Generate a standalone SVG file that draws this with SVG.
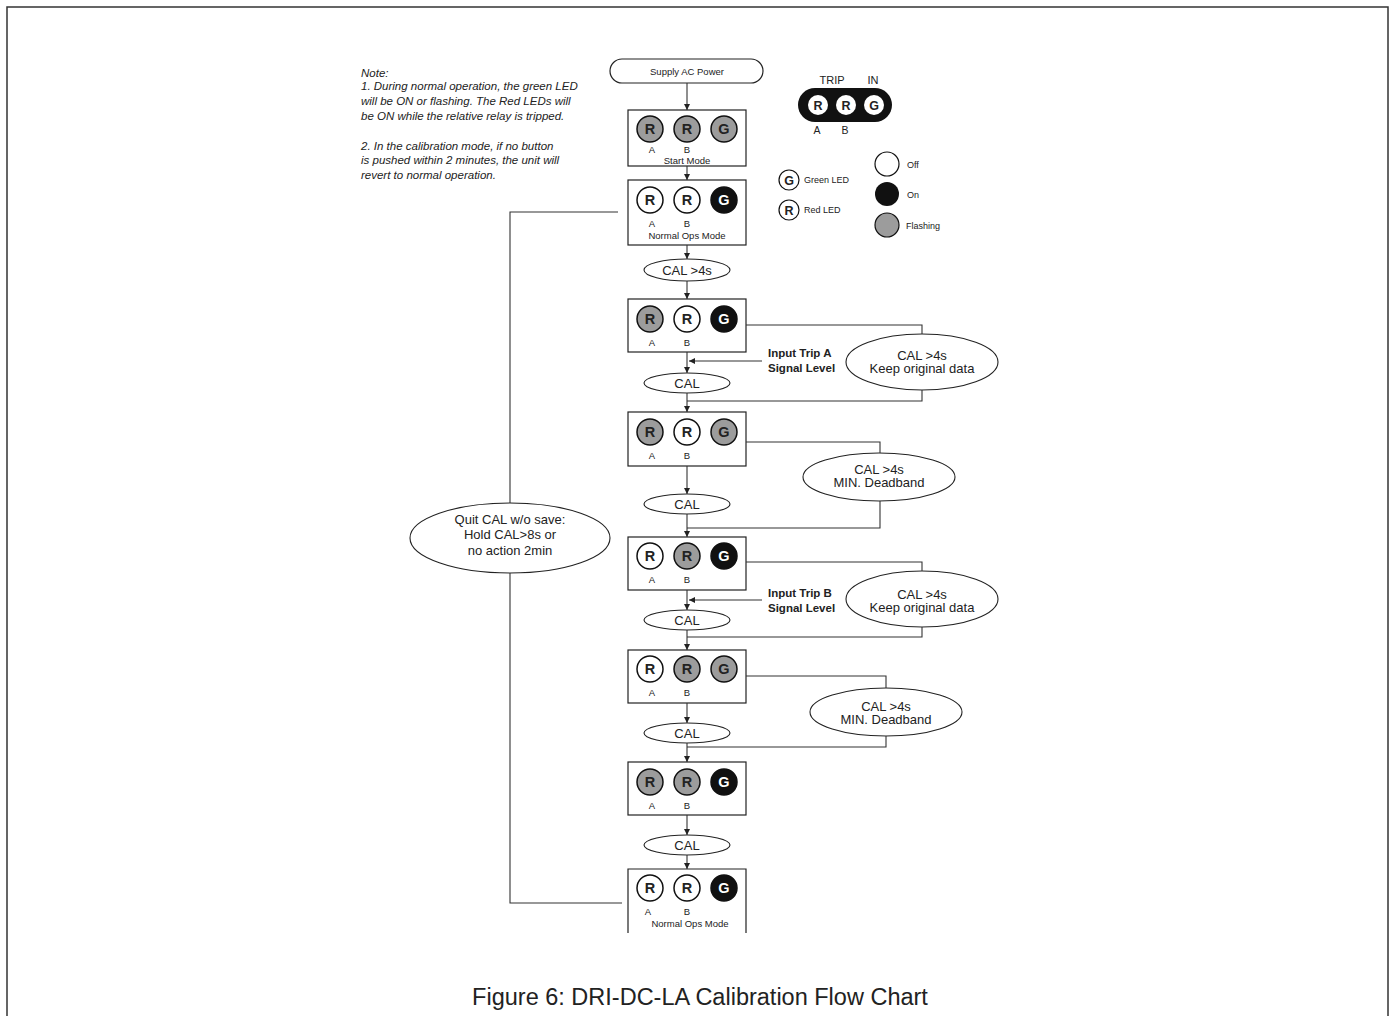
<svg xmlns="http://www.w3.org/2000/svg" width="1392" height="1016" viewBox="0 0 1392 1016">
<defs>
<marker id="ah" viewBox="0 0 8 8" refX="8" refY="4" markerWidth="6" markerHeight="6" orient="auto" markerUnits="userSpaceOnUse">
<path d="M0,0 L8,4 L0,8 Z" fill="#222"/>
</marker>
<style>
text{font-family:"Liberation Sans",Arial,sans-serif;fill:#222}
.box{fill:#fff;stroke:#222;stroke-width:1.2}
.led{stroke:#111;stroke-width:1.5}
.off{fill:#fff}
.on{fill:#111}
.fl{fill:#9c9c9c}
.lt{font-size:14.5px;font-weight:bold;text-anchor:middle}
.lw{fill:#fff}
.ab{font-size:9.5px;text-anchor:middle}
.ml{font-size:9.5px;text-anchor:middle}
.ell{fill:#fff;stroke:#222;stroke-width:1.1}
.et{font-size:13px;text-anchor:middle}
.conn path{fill:none;stroke:#333;stroke-width:1.1}
.arr{marker-end:url(#ah)}
.note{font-size:11.5px;font-style:italic}
.bold{font-size:11.5px;font-weight:bold}
.lg{font-size:9px}
</style>
</defs>

<rect x="7" y="7" width="1381" height="1020" fill="none" stroke="#333" stroke-width="1.5"/>

<g id="note">
<text class="note" x="361" y="77">Note:</text>
<text class="note" x="361" y="90">1. During normal operation, the green LED</text>
<text class="note" x="361" y="105">will be ON or flashing.  The Red LEDs will</text>
<text class="note" x="361" y="120">be ON while the relative relay is tripped.</text>
<text class="note" x="361" y="150">2. In the calibration mode, if no button</text>
<text class="note" x="361" y="164">is pushed within 2 minutes, the unit will</text>
<text class="note" x="361" y="179">revert to normal operation.</text>
</g>

<g id="legend">
<text x="832" y="84" font-size="11" text-anchor="middle">TRIP</text>
<text x="873" y="84" font-size="11" text-anchor="middle">IN</text>
<rect x="798" y="88" width="94" height="34" rx="17" fill="#111"/>
<circle cx="818" cy="105" r="10" fill="#fff"/>
<circle cx="846" cy="105" r="10" fill="#fff"/>
<circle cx="874" cy="105" r="10" fill="#fff"/>
<text x="818" y="109.5" font-size="12.5" font-weight="bold" text-anchor="middle">R</text>
<text x="846" y="109.5" font-size="12.5" font-weight="bold" text-anchor="middle">R</text>
<text x="874" y="109.5" font-size="12.5" font-weight="bold" text-anchor="middle">G</text>
<text x="817" y="134" font-size="10.5" text-anchor="middle">A</text>
<text x="845" y="134" font-size="10.5" text-anchor="middle">B</text>
<circle cx="789" cy="180" r="10" fill="#fff" stroke="#111" stroke-width="1.2"/>
<text x="789" y="184.5" font-size="12.5" font-weight="bold" text-anchor="middle">G</text>
<text class="lg" x="804" y="183">Green LED</text>
<circle cx="789" cy="210" r="10" fill="#fff" stroke="#111" stroke-width="1.2"/>
<text x="789" y="214.5" font-size="12.5" font-weight="bold" text-anchor="middle">R</text>
<text class="lg" x="804" y="213">Red LED</text>
<circle cx="887" cy="164" r="12" fill="#fff" stroke="#111" stroke-width="1.2"/>
<text class="lg" x="907" y="168">Off</text>
<circle cx="887" cy="194" r="12" fill="#111"/>
<text class="lg" x="907" y="198">On</text>
<circle cx="887" cy="225" r="12" fill="#9c9c9c" stroke="#111" stroke-width="1.2"/>
<text class="lg" x="906" y="229">Flashing</text>
</g>

<g id="start">
<rect x="610" y="59" width="153" height="24" rx="12" class="box"/>
<text class="ml" x="687" y="75">Supply AC Power</text>
</g>

<g id="box1">
<rect class="box" x="628" y="110" width="118" height="56"/>
<circle class="led fl" cx="650" cy="129" r="13"/><text class="lt" x="650" y="134">R</text>
<circle class="led fl" cx="687" cy="129" r="13"/><text class="lt" x="687" y="134">R</text>
<circle class="led fl" cx="724" cy="129" r="13"/><text class="lt" x="724" y="134">G</text>
<text class="ab" x="652" y="153">A</text><text class="ab" x="687" y="153">B</text>
<text class="ml" x="687" y="164">Start Mode</text>
</g>

<g id="box2">
<rect class="box" x="628" y="180" width="118" height="65"/>
<circle class="led off" cx="650" cy="200" r="13"/><text class="lt" x="650" y="205">R</text>
<circle class="led off" cx="687" cy="200" r="13"/><text class="lt" x="687" y="205">R</text>
<circle class="led on" cx="724" cy="200" r="13"/><text class="lt lw" x="724" y="205">G</text>
<text class="ab" x="652" y="227">A</text><text class="ab" x="687" y="227">B</text>
<text class="ml" x="687" y="239">Normal Ops Mode</text>
</g>

<g id="cal4s">
<ellipse class="ell" cx="687" cy="270" rx="43" ry="11"/>
<text class="et" x="687" y="274.5">CAL &gt;4s</text>
</g>

<g id="box3">
<rect class="box" x="628" y="299" width="118" height="53"/>
<circle class="led fl" cx="650" cy="319" r="13"/><text class="lt" x="650" y="324">R</text>
<circle class="led off" cx="687" cy="319" r="13"/><text class="lt" x="687" y="324">R</text>
<circle class="led on" cx="724" cy="319" r="13"/><text class="lt lw" x="724" y="324">G</text>
<text class="ab" x="652" y="346">A</text><text class="ab" x="687" y="346">B</text>
</g>

<g id="cal1">
<ellipse class="ell" cx="687" cy="383" rx="43" ry="10"/>
<text class="et" x="687" y="387.5">CAL</text>
</g>

<g id="keepA">
<ellipse class="ell" cx="922" cy="362" rx="76" ry="28"/>
<text class="et" x="922" y="359.5">CAL &gt;4s</text>
<text class="et" x="922" y="372.5">Keep original data</text>
</g>

<g id="inputA">
<text class="bold" x="768" y="357">Input Trip A</text>
<text class="bold" x="768" y="372">Signal Level</text>
</g>

<g id="box4">
<rect class="box" x="628" y="412" width="118" height="54"/>
<circle class="led fl" cx="650" cy="432" r="13"/><text class="lt" x="650" y="437">R</text>
<circle class="led off" cx="687" cy="432" r="13"/><text class="lt" x="687" y="437">R</text>
<circle class="led fl" cx="724" cy="432" r="13"/><text class="lt" x="724" y="437">G</text>
<text class="ab" x="652" y="459">A</text><text class="ab" x="687" y="459">B</text>
</g>

<g id="minA">
<ellipse class="ell" cx="879" cy="477" rx="76" ry="24"/>
<text class="et" x="879" y="473.5">CAL &gt;4s</text>
<text class="et" x="879" y="486.5">MIN. Deadband</text>
</g>

<g id="cal2">
<ellipse class="ell" cx="687" cy="504" rx="43" ry="10"/>
<text class="et" x="687" y="508.5">CAL</text>
</g>

<g id="box5">
<rect class="box" x="628" y="537" width="118" height="53"/>
<circle class="led off" cx="650" cy="556" r="13"/><text class="lt" x="650" y="561">R</text>
<circle class="led fl" cx="687" cy="556" r="13"/><text class="lt" x="687" y="561">R</text>
<circle class="led on" cx="724" cy="556" r="13"/><text class="lt lw" x="724" y="561">G</text>
<text class="ab" x="652" y="583">A</text><text class="ab" x="687" y="583">B</text>
</g>

<g id="inputB">
<text class="bold" x="768" y="597">Input Trip B</text>
<text class="bold" x="768" y="612">Signal Level</text>
</g>

<g id="keepB">
<ellipse class="ell" cx="922" cy="599" rx="76" ry="28"/>
<text class="et" x="922" y="598.5">CAL &gt;4s</text>
<text class="et" x="922" y="611.5">Keep original data</text>
</g>

<g id="cal3">
<ellipse class="ell" cx="687" cy="620" rx="43" ry="10"/>
<text class="et" x="687" y="624.5">CAL</text>
</g>

<g id="box6">
<rect class="box" x="628" y="650" width="118" height="53"/>
<circle class="led off" cx="650" cy="669" r="13"/><text class="lt" x="650" y="674">R</text>
<circle class="led fl" cx="687" cy="669" r="13"/><text class="lt" x="687" y="674">R</text>
<circle class="led fl" cx="724" cy="669" r="13"/><text class="lt" x="724" y="674">G</text>
<text class="ab" x="652" y="696">A</text><text class="ab" x="687" y="696">B</text>
</g>

<g id="minB">
<ellipse class="ell" cx="886" cy="712" rx="76" ry="24"/>
<text class="et" x="886" y="710.5">CAL &gt;4s</text>
<text class="et" x="886" y="723.5">MIN. Deadband</text>
</g>

<g id="cal4">
<ellipse class="ell" cx="687" cy="733" rx="43" ry="10"/>
<text class="et" x="687" y="737.5">CAL</text>
</g>

<g id="box7">
<rect class="box" x="628" y="762" width="118" height="53"/>
<circle class="led fl" cx="650" cy="782" r="13"/><text class="lt" x="650" y="787">R</text>
<circle class="led fl" cx="687" cy="782" r="13"/><text class="lt" x="687" y="787">R</text>
<circle class="led on" cx="724" cy="782" r="13"/><text class="lt lw" x="724" y="787">G</text>
<text class="ab" x="652" y="809">A</text><text class="ab" x="687" y="809">B</text>
</g>

<g id="cal5">
<ellipse class="ell" cx="687" cy="845" rx="43" ry="10"/>
<text class="et" x="687" y="849.5">CAL</text>
</g>

<g id="box8">
<path d="M628,933 V869 H746 V933" fill="#fff" stroke="#222" stroke-width="1.2"/>
<circle class="led off" cx="650" cy="888" r="13"/><text class="lt" x="650" y="893">R</text>
<circle class="led off" cx="687" cy="888" r="13"/><text class="lt" x="687" y="893">R</text>
<circle class="led on" cx="724" cy="888" r="13"/><text class="lt lw" x="724" y="893">G</text>
<text class="ab" x="648" y="915">A</text><text class="ab" x="687" y="915">B</text>
<text class="ml" x="690" y="927">Normal Ops Mode</text>
</g>

<g id="quit">
<ellipse class="ell" cx="510" cy="538" rx="100" ry="35"/>
<text class="et" x="510" y="523.5">Quit CAL w/o save:</text>
<text class="et" x="510" y="539">Hold CAL&gt;8s or</text>
<text class="et" x="510" y="554.5">no action 2min</text>
</g>

<g id="caption">
<text x="700" y="1005" font-size="23.5" text-anchor="middle">Figure 6: DRI-DC-LA Calibration Flow Chart</text>
</g>

<g class="conn">
<path class="arr" d="M687,83 V110"/>
<path class="arr" d="M687,166 V180"/>
<path class="arr" d="M687,245 V259"/>
<path class="arr" d="M687,281 V299"/>
<path class="arr" d="M687,352 V373"/>
<path class="arr" d="M687,393 V412"/>
<path class="arr" d="M687,466 V494"/>
<path class="arr" d="M687,514 V537"/>
<path class="arr" d="M687,590 V610"/>
<path class="arr" d="M687,630 V650"/>
<path class="arr" d="M687,703 V723"/>
<path class="arr" d="M687,743 V762"/>
<path class="arr" d="M687,815 V835"/>
<path class="arr" d="M687,855 V869"/>
<path d="M746,325 H922 V334"/>
<path d="M922,390 V401 H687"/>
<path d="M746,442 H880 V453"/>
<path d="M880,501 V528 H687"/>
<path d="M746,562 H922 V571"/>
<path d="M922,627 V637 H687"/>
<path d="M746,676 H886 V688"/>
<path d="M886,736 V747 H687"/>
<path class="arr" d="M762,361 H689"/>
<path class="arr" d="M762,600 H689"/>
<path d="M618,212 H510 V503"/>
<path d="M510,573 V903 H622"/>
</g>
</svg>
